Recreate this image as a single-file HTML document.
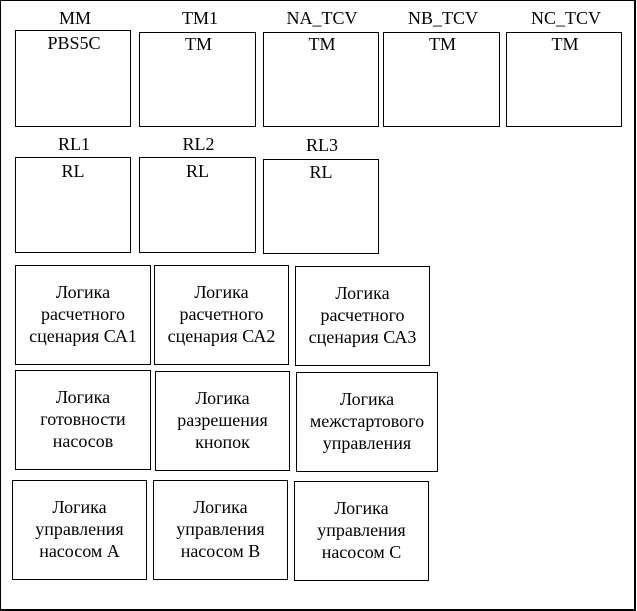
<!DOCTYPE html>
<html>
<head>
<meta charset="utf-8">
<style>
  html, body { margin:0; padding:0; background:#fff; }
  body { width:637px; height:611px; position:relative; overflow:hidden;
         font-family:"Liberation Serif","Noto Serif CJK SC",serif; font-size:18px; color:#000; }
  .outer { position:absolute; left:0; top:0; width:636px; height:611px; box-sizing:border-box;
           border-left:1px solid #000; border-top:1px solid #000; border-right:2px solid #000; border-bottom:2px solid #000; }
  .b { position:absolute; box-sizing:border-box; border:1px solid #000; background:#fff; }
  .t { position:absolute; text-align:center; line-height:21px; white-space:nowrap; }
  .c { position:absolute; box-sizing:border-box; border:1px solid #000; display:flex; align-items:center;
       justify-content:center; text-align:center; line-height:21.7px; }
</style>
</head>
<body>
<div class="outer"></div>

<!-- Row 1 labels -->
<div class="t" style="left:15px;top:8px;width:120px;">MM</div>
<div class="t" style="left:140px;top:8px;width:120px;">TM1</div>
<div class="t" style="left:262px;top:8px;width:120px;">NA_TCV</div>
<div class="t" style="left:383px;top:8px;width:120px;">NB_TCV</div>
<div class="t" style="left:506px;top:8px;width:120px;">NC_TCV</div>

<!-- Row 1 boxes -->
<div class="b" style="left:15px;top:30px;width:116px;height:97px;"></div>
<div class="b" style="left:139px;top:32px;width:117px;height:95px;"></div>
<div class="b" style="left:263px;top:32px;width:116px;height:95px;"></div>
<div class="b" style="left:383px;top:32px;width:117px;height:95px;"></div>
<div class="b" style="left:506px;top:32px;width:116px;height:95px;"></div>

<div class="t" style="left:15px;top:33px;width:118px;">PBS5C</div>
<div class="t" style="left:139px;top:34px;width:119px;">TM</div>
<div class="t" style="left:263px;top:34px;width:118px;">TM</div>
<div class="t" style="left:383px;top:34px;width:119px;">TM</div>
<div class="t" style="left:506px;top:34px;width:118px;">TM</div>

<!-- Row 2 -->
<div class="t" style="left:15px;top:134px;width:118px;">RL1</div>
<div class="t" style="left:139px;top:134px;width:119px;">RL2</div>
<div class="t" style="left:263px;top:135px;width:118px;">RL3</div>

<div class="b" style="left:15px;top:157px;width:116px;height:96px;"></div>
<div class="b" style="left:139px;top:157px;width:117px;height:96px;"></div>
<div class="b" style="left:263px;top:159px;width:116px;height:95px;"></div>

<div class="t" style="left:15px;top:161px;width:116px;">RL</div>
<div class="t" style="left:139px;top:161px;width:117px;">RL</div>
<div class="t" style="left:263px;top:162px;width:116px;">RL</div>

<!-- Row 3 -->
<div class="c" style="left:15px;top:265px;width:136px;height:100px;">Логика<br>расчетного<br>сценария СА1</div>
<div class="c" style="left:154px;top:265px;width:135px;height:100px;">Логика<br>расчетного<br>сценария СА2</div>
<div class="c" style="left:295px;top:266px;width:135px;height:100px;">Логика<br>расчетного<br>сценария СА3</div>

<!-- Row 4 -->
<div class="c" style="left:15px;top:370px;width:136px;height:100px;">Логика<br>готовности<br>насосов</div>
<div class="c" style="left:155px;top:371px;width:135px;height:100px;">Логика<br>разрешения<br>кнопок</div>
<div class="c" style="left:296px;top:372px;width:142px;height:100px;">Логика<br>межстартового<br>управления</div>

<!-- Row 5 -->
<div class="c" style="left:12px;top:480px;width:135px;height:100px;">Логика<br>управления<br>насосом А</div>
<div class="c" style="left:153px;top:480px;width:135px;height:100px;">Логика<br>управления<br>насосом В</div>
<div class="c" style="left:294px;top:481px;width:135px;height:100px;">Логика<br>управления<br>насосом С</div>
</body>
</html>
